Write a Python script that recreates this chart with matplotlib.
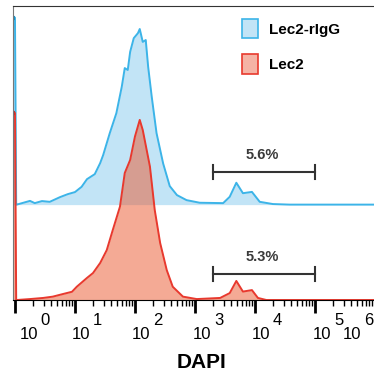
import numpy as np
import matplotlib.pyplot as plt
from matplotlib.patches import Patch

plt.rcParams['font.family'] = ['Liberation Sans', 'DejaVu Sans']

# histogram traces, x = log10(DAPI), y = % of max
blue_x = [-0.033, 0.0, 0.02, 0.03, 0.25, 0.33, 0.45, 0.58, 0.75, 0.88, 1.0, 1.11, 1.2,
          1.33, 1.42, 1.47, 1.58, 1.69, 1.78, 1.83, 1.88, 1.92, 1.98, 2.05, 2.08,
          2.13, 2.18, 2.22, 2.28, 2.36, 2.47, 2.58, 2.7, 2.86, 3.08, 3.47, 3.58,
          3.69, 3.8, 3.95, 4.08, 4.3, 4.58, 6.0]
blue_y = [100, 100, 0, 0, 2.0, 0.8, 1.9, 1.5, 4.0, 5.6, 6.7, 9.5, 13.6,
          16.3, 22.2, 26.5, 38.2, 48.9, 63, 73, 72, 81.7, 89, 91.7, 93.9,
          87, 88, 73.7, 57.6, 38.2, 22, 9.9, 5.1, 2.4, 1.0, 0.8, 4.2,
          11.7, 6.1, 6.8, 1.5, 0.3, 0, 0]

red_x = [-0.033, 0.0, 0.02, 0.03, 0.25, 0.47, 0.63, 0.8, 0.95, 1.03, 1.2, 1.3, 1.42,
         1.53, 1.63, 1.75, 1.83, 1.92, 2.0, 2.08, 2.13, 2.25, 2.33, 2.42, 2.53,
         2.63, 2.8, 3.03, 3.42, 3.58, 3.69, 3.8, 3.95, 4.05, 4.19, 6.0]
red_y = [100, 100, 0, 0, 0.5, 1.1, 1.8, 3.2, 4.4, 7.1, 11.8, 14.4, 19.8,
         26.7, 37.4, 49.9, 67.9, 74.9, 87.4, 96.3, 90.9, 71.3, 48.1, 30.5, 16,
         7.1, 1.8, 0.5, 1.1, 3.7, 10.2, 4.5, 5.3, 1.1, 0, 0]

blue_offset = 51
labels = ['Lec2-rIgG', 'Lec2']
gate_lo, gate_hi = 3.3, 5.0
gate_y = [68.4, 13.9]
gate_pct = ['5.6%', '5.3%']

exponents = ['0', '1', '2', '3', '4', '5', '6']
label_pos = [0.08, 0.95, 1.95, 2.97, 3.95, 4.97, 5.47]

blue_line, blue_fill = '#3cb4e8', '#c2e4f6'
red_line, red_fill = '#e8392e', '#ea5c35'

fig = plt.figure(figsize=(3.74, 3.77), dpi=100)
ax = fig.add_axes([13 / 374, 77 / 377, 361 / 374, 294 / 377])

bx = np.array(blue_x)
by = np.array(blue_y) + blue_offset
ax.fill_between(bx, blue_offset, by, color=blue_fill, lw=0)
ax.plot(bx, by, color=blue_line, lw=1.4)
ax.plot(bx[:2], by[:2], color='#1e8fc0', lw=3, solid_capstyle='butt')

ax.fill_between(red_x, 0, red_y, color=red_fill, alpha=0.52, lw=0)
ax.plot(red_x, red_y, color=red_line, lw=1.4)
ax.plot(red_x[:2], red_y[:2], color='#c4302a', lw=3, solid_capstyle='butt')

# gates
for gy, txt in zip(gate_y, gate_pct):
    ax.plot([gate_lo, gate_hi], [gy, gy], color='#333333', lw=1.5)
    ax.plot([gate_lo, gate_lo], [gy - 3.7, gy + 3.7], color='#333333', lw=1.5)
    ax.plot([gate_hi, gate_hi], [gy - 3.7, gy + 3.7], color='#333333', lw=1.5)
    ax.text((gate_lo + gate_hi) / 2 - 0.03, gy + 5.5, txt, ha='center', va='bottom',
            fontsize=10.5, fontweight='bold', color='#3a3a3a')

ax.set_xlim(-0.033, 5.985)
ax.set_ylim(0, 157.2)

ax.spines['right'].set_visible(False)
ax.spines['top'].set_color('#333333')
ax.spines['left'].set_color('#777777')
ax.spines['bottom'].set_color('black')

ax.set_yticks([])
major = np.arange(0, 6)
minor = [d + np.log10(m) for d in range(0, 6) for m in range(2, 10) if d + np.log10(m) < 5.98]
ax.set_xticks(major)
ax.set_xticks(minor, minor=True)
ax.set_xticklabels([])
ax.tick_params(axis='x', which='major', direction='out', length=9, width=2, color='black')
ax.tick_params(axis='x', which='minor', direction='out', length=4, width=1, color='black')

for pos, e in zip(label_pos, exponents):
    ax.annotate('10', xy=(pos, 0), xycoords=('data', 'axes fraction'),
                xytext=(0, -28), textcoords='offset points', ha='left', va='baseline',
                fontsize=12)
    ax.annotate(e, xy=(pos, 0), xycoords=('data', 'axes fraction'),
                xytext=(15, -18), textcoords='offset points', ha='left', va='baseline',
                fontsize=12)

fig.text(201 / 374, 1 - 368 / 377, 'DAPI', ha='center', va='baseline',
         fontsize=15, fontweight='bold')

handles = [Patch(facecolor=blue_fill, edgecolor=blue_line, lw=1.2),
           Patch(facecolor='#f5b3a5', edgecolor=red_line, lw=1.2)]
leg = fig.legend(handles, labels, loc='upper left', bbox_to_anchor=(228 / 374, 1 - 5 / 377),
                 frameon=False, prop={'weight': 'bold', 'size': 11},
                 handlelength=1.05, handleheight=1.6, handletextpad=0.75, labelspacing=1.05)

fig.savefig('out.png', dpi=100)
